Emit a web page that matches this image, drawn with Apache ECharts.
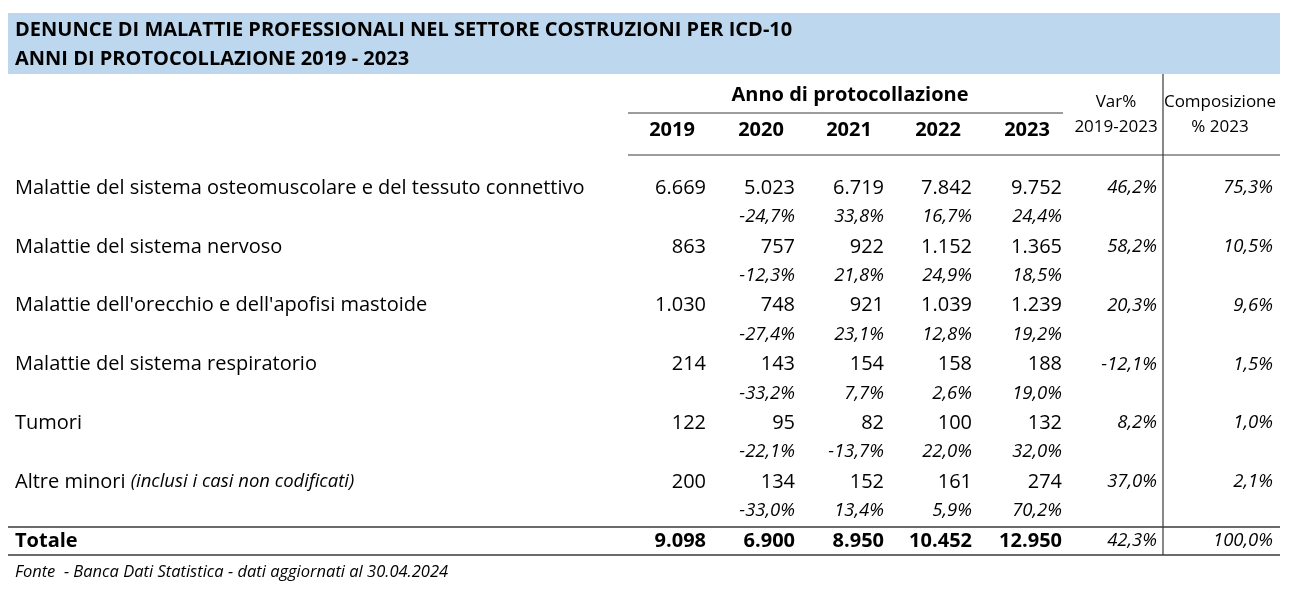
<!DOCTYPE html>
<html><head><meta charset="utf-8">
<script src="https://cdn.jsdelivr.net/npm/echarts@6/dist/echarts.min.js"></script>
<style>html,body{margin:0;padding:0;background:#fff}#c{width:1305px;height:607px}</style>
</head><body><div id="c"></div>
<script>
// ---- data ----
const titleLines = ["DENUNCE DI MALATTIE PROFESSIONALI NEL SETTORE COSTRUZIONI PER ICD-10", "ANNI DI PROTOCOLLAZIONE 2019 - 2023"];
const categories = ["Malattie del sistema osteomuscolare e del tessuto connettivo", "Malattie del sistema nervoso", "Malattie dell'orecchio e dell'apofisi mastoide", "Malattie del sistema respiratorio", "Tumori", "Altre minori"];
const categoryNotes = ["", "", "", "", "", "(inclusi i casi non codificati)"];
const years = ["2019", "2020", "2021", "2022", "2023"];
const v2019 = [6669, 863, 1030, 214, 122, 200];
const v2020 = [5023, 757, 748, 143, 95, 134];
const v2021 = [6719, 922, 921, 154, 82, 152];
const v2022 = [7842, 1152, 1039, 158, 100, 161];
const v2023 = [9752, 1365, 1239, 188, 132, 274];
const yoy2020 = [-24.7, -12.3, -27.4, -33.2, -22.1, -33.0];
const yoy2021 = [33.8, 21.8, 23.1, 7.7, -13.7, 13.4];
const yoy2022 = [16.7, 24.9, 12.8, 2.6, 22.0, 5.9];
const yoy2023 = [24.4, 18.5, 19.2, 19.0, 32.0, 70.2];
const var2019_2023 = [46.2, 58.2, 20.3, -12.1, 8.2, 37.0];
const comp2023 = [75.3, 10.5, 9.6, 1.5, 1.0, 2.1];
const totals = [9098, 6900, 8950, 10452, 12950];
const totalVar = 42.3;
const totalComp = 100.0;
const groupHeader = "Anno di protocollazione";
const varHeader = ["Var%", "2019-2023"];
const compHeader = ["Composizione", "% 2023"];
const totalLabel = "Totale";
const sourceNote = "Fonte  - Banca Dati Statistica - dati aggiornati al 30.04.2024";

// ---- formatting ----
const fmtInt = n => String(n).replace(/\B(?=(\d{3})+(?!\d))/g, '.');
const fmtPct = n => n.toFixed(1).replace('.', ',') + '%';

// ---- layout (table geometry in layout units = px) ----
const FONT = '"Open Sans", "Noto Sans", sans-serif';
const L = {
  left: 8, right: 1280, labelX: 15,
  colRight: [706, 795, 884, 972, 1062], colCenter: [672, 761, 849, 938, 1027],
  varRight: 1157, varCenter: 1116, compRight: 1273, compCenter: 1220, vline: 1163,
  rowTop: 188, rowStep: 58.8, pctOff: 29, totalY: 541
};
const yearsMatrix = [v2019, v2020, v2021, v2022, v2023];
const yoyMatrix = [null, yoy2020, yoy2021, yoy2022, yoy2023];

const STY = {
  title: {font: 'bold 20px ' + FONT, align: 'left'},
  label: {font: '20px ' + FONT, align: 'left'},
  num: {font: '20px ' + FONT, align: 'right'},
  pct: {font: 'italic 18.5px ' + FONT, align: 'right'},
  head: {font: 'bold 20px ' + FONT, align: 'center'},
  sub: {font: '17px ' + FONT, align: 'center'},
  bold: {font: 'bold 20px ' + FONT, align: 'left'},
  boldNum: {font: 'bold 20px ' + FONT, align: 'right'},
  note: {font: 'italic 16.5px ' + FONT, align: 'left'}
};

const cells = [];
const add = (x, y, text, s) => cells.push([x, y, text, s]);
titleLines.forEach((t, i) => add(L.labelX, 30 + i * 29, t, 'title'));
add(850, 95, groupHeader, 'head');
years.forEach((y, j) => add(L.colCenter[j], 130, y, 'head'));
add(L.varCenter, 102, varHeader[0], 'sub');
add(L.varCenter, 127, varHeader[1], 'sub');
add(L.compCenter, 102, compHeader[0], 'sub');
add(L.compCenter, 127, compHeader[1], 'sub');
categories.forEach((c, i) => {
  const y = L.rowTop + i * L.rowStep;
  add(L.labelX, y, categoryNotes[i] ? '{a|' + c + '} {b|' + categoryNotes[i] + '}' : c, 'label');
  yearsMatrix.forEach((arr, j) => {
    add(L.colRight[j], y, fmtInt(arr[i]), 'num');
    if (yoyMatrix[j]) add(L.colRight[j], y + L.pctOff, fmtPct(yoyMatrix[j][i]), 'pct');
  });
  add(L.varRight, y, fmtPct(var2019_2023[i]), 'pct');
  add(L.compRight, y, fmtPct(comp2023[i]), 'pct');
});
add(L.labelX, L.totalY, totalLabel, 'bold');
totals.forEach((t, j) => add(L.colRight[j], L.totalY, fmtInt(t), 'boldNum'));
add(L.varRight, L.totalY, fmtPct(totalVar), 'pct');
add(L.compRight, L.totalY, fmtPct(totalComp), 'pct');
add(L.labelX, 572, sourceNote, 'note');

// rules: [x1, y1, x2, y2, width]
const rules = [
  [628, 113, 1063, 113, 1], [628, 155, L.right, 155, 1.2],
  [L.vline, 74, L.vline, 555, 1.2],
  [L.left, 527, L.right, 527, 1.5], [L.left, 555, L.right, 555, 1.5]
];

const chart = echarts.init(document.getElementById('c'), null, {renderer: 'canvas'});
chart.setOption({
  animation: false,
  grid: {left: 0, right: 0, top: 0, bottom: 0},
  xAxis: {type: 'value', min: 0, max: 1305, show: false},
  yAxis: {type: 'value', min: 0, max: 607, inverse: true, show: false},
  series: [
    {
      type: 'custom', silent: true, z: 1,
      data: [[L.left, 13, L.right, 74]],
      renderItem: (p, api) => {
        const a = api.coord([api.value(0), api.value(1)]);
        const b = api.coord([api.value(2), api.value(3)]);
        return {type: 'rect', shape: {x: a[0], y: a[1], width: b[0] - a[0], height: b[1] - a[1]}, style: {fill: '#BDD7EE'}};
      }
    },
    {
      type: 'custom', silent: true, z: 2,
      data: rules,
      renderItem: (p, api) => {
        const a = api.coord([api.value(0), api.value(1)]);
        const b = api.coord([api.value(2), api.value(3)]);
        return {type: 'line', shape: {x1: a[0], y1: a[1], x2: b[0], y2: b[1]}, style: {stroke: '#3a3a3a', lineWidth: api.value(4)}};
      }
    },
    {
      type: 'custom', silent: true, z: 3,
      data: cells,
      renderItem: (p, api) => {
        const d = cells[p.dataIndex];
        const pt = api.coord([d[0], d[1]]);
        const s = STY[d[3]];
        return {
          type: 'text', x: pt[0], y: pt[1],
          style: {
            text: d[2], font: s.font, fill: '#000', align: s.align, verticalAlign: 'middle',
            rich: {a: {font: '20px ' + FONT, fill: '#000'}, b: {font: 'italic 18.5px ' + FONT, fill: '#000'}}
          }
        };
      }
    }
  ]
});
</script></body></html>
